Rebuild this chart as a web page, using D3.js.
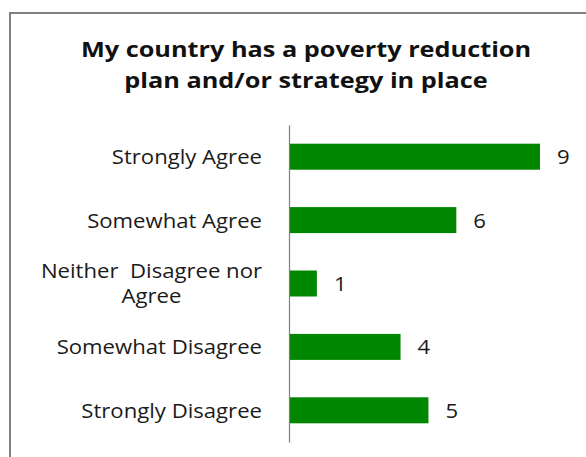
<!DOCTYPE html>
<html>
<head>
<meta charset="utf-8">
<script src="https://cdn.jsdelivr.net/npm/d3@7"></script>
<style>
  html, body { margin: 0; padding: 0; background: #fff; }
  svg { display: block; font-family: "Open Sans", Lato, sans-serif; }
</style>
</head>
<body>
<svg id="chart" width="586" height="457"></svg>
<script>
// Survey responses
const categories = [
  ["Strongly Agree"],
  ["Somewhat Agree"],
  ["Neither  Disagree nor", "Agree"],
  ["Somewhat Disagree"],
  ["Strongly Disagree"]
];
const values = [9, 6, 1, 4, 5];
const titleLines = ["My country has a poverty reduction", "plan and/or strategy in place"];

const svg = d3.select("#chart");
const labelSize = 19.5;
const labelStretch = 1.135;   // wide, Calibri-like proportions
const titleStretch = 1.15;

// Chart frame
svg.append("rect")
  .attr("x", 10).attr("y", 13)
  .attr("width", 620).attr("height", 480)
  .attr("fill", "none")
  .attr("stroke", "#808080")
  .attr("stroke-width", 2);

// Title
const title = svg.append("g")
  .attr("transform", `translate(306,0) scale(${titleStretch},1)`)
  .append("text")
  .attr("text-anchor", "middle")
  .attr("font-weight", "bold")
  .attr("font-size", 22)
  .attr("fill", "#111");
titleLines.forEach((t, i) => {
  title.append("tspan").attr("x", 0).attr("y", 57 + i * 31).text(t);
});

const keys = categories.map(c => c.join(" "));
const y = d3.scaleBand().domain(keys).range([125, 442]).paddingInner(0.59).paddingOuter(0.295);
const x = d3.scaleLinear().domain([0, 9]).range([289, 540]);

// Bars
svg.selectAll("rect.bar")
  .data(values)
  .join("rect")
  .attr("class", "bar")
  .attr("x", x(0))
  .attr("y", (d, i) => y(keys[i]))
  .attr("width", d => x(d) - x(0))
  .attr("height", y.bandwidth())
  .attr("fill", "#008600");

// Category axis
const axis = svg.append("g")
  .attr("transform", `translate(${x(0)},0)`)
  .call(d3.axisLeft(y).tickSize(0).tickFormat(""));
axis.select(".domain").attr("stroke", "#808080").attr("stroke-width", 1.2);

// Category labels, right edge at x = 262
const bandCenter = k => y(k) + y.bandwidth() / 2;
const labels = svg.append("g").attr("transform", `translate(262,0) scale(${labelStretch},1)`);
categories.forEach((lines, i) => {
  const cy = bandCenter(keys[i]);
  const lh = 25;
  const t = labels.append("text")
    .attr("font-size", labelSize)
    .attr("font-weight", 500)
    .attr("fill", "#1a1a1a")
    .attr("dominant-baseline", "central")
    .style("white-space", "pre");
  if (lines.length === 1) {
    t.attr("text-anchor", "end").attr("x", 0).attr("y", cy).text(lines[0]);
  } else {
    const measure = labels.append("text").attr("font-size", labelSize).attr("font-weight", 500)
      .style("white-space", "pre").text(lines[0]);
    const w = measure.node().getComputedTextLength();
    measure.remove();
    t.attr("text-anchor", "middle");
    lines.forEach((ln, j) => {
      t.append("tspan")
        .attr("x", -w / 2)
        .attr("y", cy + (j - (lines.length - 1) / 2) * lh)
        .text(ln);
    });
  }
});

// Value labels
svg.selectAll("g.val")
  .data(values)
  .join("g")
  .attr("class", "val")
  .attr("transform", (d, i) => `translate(${x(d) + 17},${bandCenter(keys[i])}) scale(${labelStretch},1)`)
  .append("text")
  .attr("dominant-baseline", "central")
  .attr("font-size", labelSize)
  .attr("font-weight", 500)
  .attr("fill", "#1a1a1a")
  .text(d => d);
</script>
</body>
</html>
